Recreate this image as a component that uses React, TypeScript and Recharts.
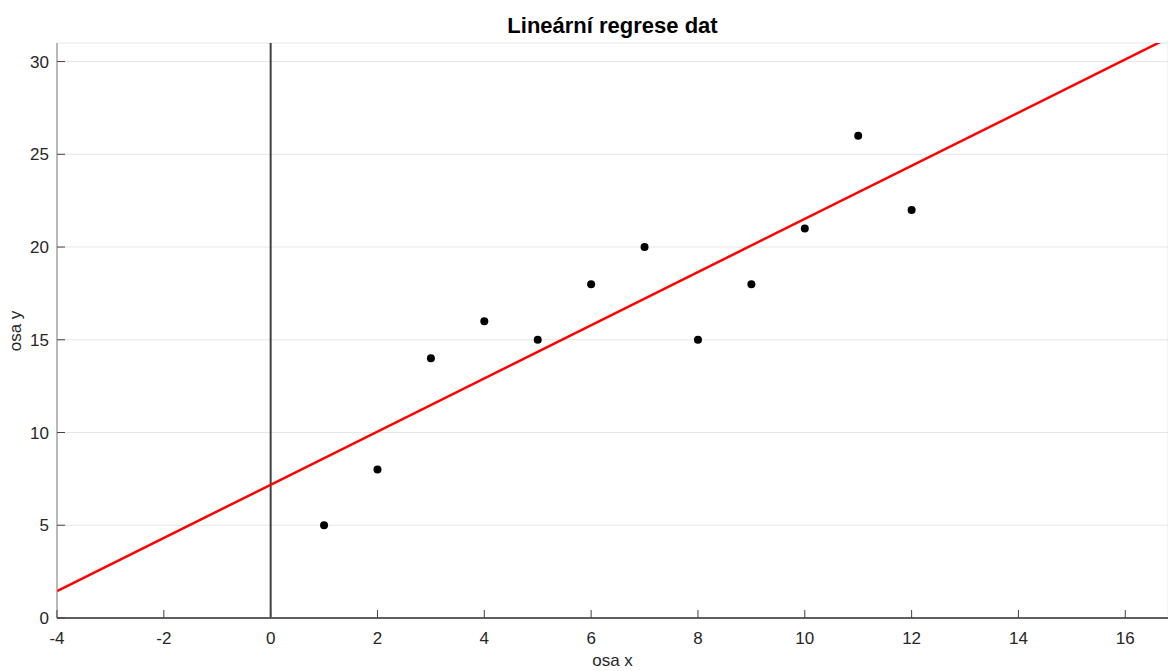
import { ComposedChart, Scatter, Line, XAxis, YAxis, CartesianGrid, ReferenceLine } from 'recharts';

// measured points
const xValues = [1, 2, 3, 4, 5, 6, 7, 8, 9, 10, 11, 12];
const yValues = [5, 8, 14, 16, 15, 18, 20, 15, 18, 21, 26, 22];

// regression line end points
const fitX = [-4, 17];
const fitY = [1.45, 31.55];

const xTicks = [-4, -2, 0, 2, 4, 6, 8, 10, 12, 14, 16];
const yTicks = [0, 5, 10, 15, 20, 25, 30];

const points = xValues.map((x, i) => ({ x, y: yValues[i] }));
const fitLine = fitX.map((x, i) => ({ x, y: fitY[i] }));

const FONT = '"Liberation Sans", Arial, sans-serif';
const TICK_COLOR = '#262626';

const BottomTick = (props: any) => {
    const { x, y, payload } = props;
    return (
        <g>
            <line x1={x} x2={x} y1={y} y2={y - 8} stroke="#444" strokeWidth={1} />
            <text x={x} y={y} dy={26} textAnchor="middle" fill={TICK_COLOR} fontSize={17} fontFamily={FONT}>
                {payload.value}
            </text>
        </g>
    );
};

const TopTick = (props: any) => {
    const { x, y } = props;
    return <line x1={x} x2={x} y1={y} y2={y + 8} stroke="#444" strokeWidth={1} />;
};

const LeftTick = (props: any) => {
    const { x, y, payload } = props;
    return (
        <g>
            <line x1={x} x2={x + 8} y1={y} y2={y} stroke="#444" strokeWidth={1} />
            <text x={x - 8} y={y} dy={6} textAnchor="end" fill={TICK_COLOR} fontSize={17} fontFamily={FONT}>
                {payload.value}
            </text>
        </g>
    );
};

const Dot = (props: any) => {
    const { cx, cy } = props;
    return <circle cx={cx} cy={cy} r={4} fill="#000" />;
};

export default function App() {
    return (
        <div style={{ position: 'absolute', left: 0, top: 0, width: 1168, height: 671, background: '#fff', fontFamily: FONT }}>
            <div style={{ position: 'absolute', left: 57, width: 1111, top: 13, textAlign: 'center', fontSize: 22, fontWeight: 'bold', color: '#000', lineHeight: '25px' }}>
                Lineární regrese dat
            </div>
            <div style={{ position: 'absolute', left: 57, width: 1111, top: 651, textAlign: 'center', fontSize: 17, color: TICK_COLOR, lineHeight: '20px' }}>
                osa x
            </div>
            <div style={{ position: 'absolute', left: 16, top: 331, transform: 'translate(-50%, -50%) rotate(-90deg)', fontSize: 17, color: TICK_COLOR, whiteSpace: 'nowrap', lineHeight: '20px' }}>
                osa y
            </div>
            <ComposedChart
                width={1168}
                height={671}
                margin={{ top: 43, right: 0, bottom: 0, left: 0 }}
                style={{ position: 'absolute', left: 0, top: 0 }}
            >
                <CartesianGrid stroke="#e6e6e6" strokeWidth={1} />
                <XAxis
                    dataKey="x"
                    type="number"
                    xAxisId="bottom"
                    domain={[-4, 16.8]}
                    ticks={xTicks}
                    allowDataOverflow
                    height={53}
                    tickSize={0}
                    tickMargin={0}
                    tickLine={false}
                    axisLine={{ stroke: '#808080' }}
                    tick={<BottomTick />}
                    interval={0}
                />
                <XAxis
                    dataKey="x"
                    type="number"
                    xAxisId="top"
                    orientation="top"
                    domain={[-4, 16.8]}
                    ticks={xTicks}
                    allowDataOverflow
                    height={0}
                    tickSize={0}
                    tickMargin={0}
                    tickLine={false}
                    axisLine={{ stroke: '#808080' }}
                    tick={<TopTick />}
                    interval={0}
                />
                <YAxis
                    dataKey="y"
                    type="number"
                    domain={[0, 31]}
                    ticks={yTicks}
                    allowDataOverflow
                    width={57}
                    tickSize={0}
                    tickMargin={0}
                    tickLine={false}
                    axisLine={{ stroke: '#808080' }}
                    tick={<LeftTick />}
                    interval={0}
                />
                <ReferenceLine xAxisId="bottom" x={0} stroke="#404040" strokeWidth={2} />
                <ReferenceLine xAxisId="bottom" y={0} stroke="#404040" strokeWidth={2} />
                <Line
                    xAxisId="bottom"
                    data={fitLine}
                    dataKey="y"
                    type="linear"
                    stroke="#ff0000"
                    strokeWidth={2.5}
                    dot={false}
                    activeDot={false}
                    isAnimationActive={false}
                />
                <Scatter
                    xAxisId="bottom"
                    data={points}
                    dataKey="y"
                    fill="#000"
                    shape={<Dot />}
                    isAnimationActive={false}
                />
            </ComposedChart>
        </div>
    );
}
